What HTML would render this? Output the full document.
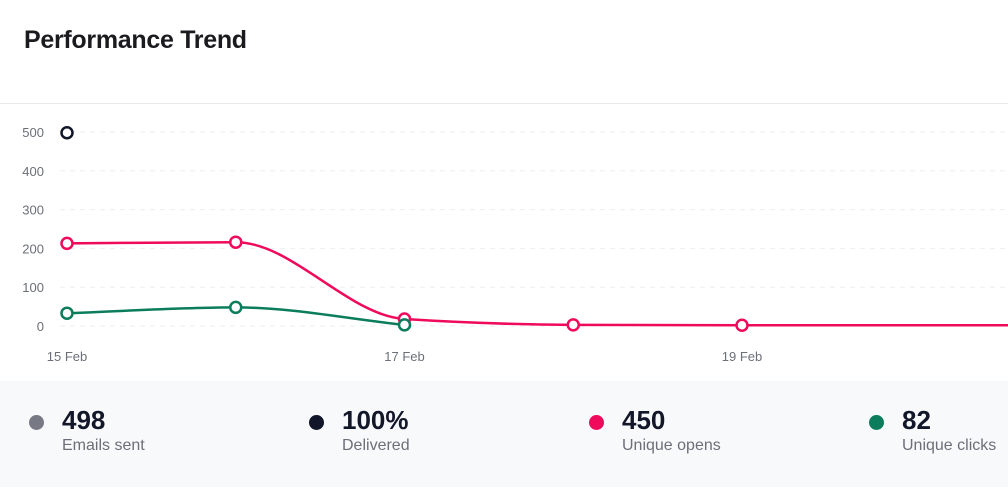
<!DOCTYPE html>
<html><head><meta charset="utf-8"><style>
body{margin:0;width:1008px;height:491px;overflow:hidden;background:#fff;font-family:"Liberation Sans",sans-serif;position:relative}
h1{position:absolute;left:24px;top:26px;margin:0;font-size:25px;font-weight:bold;color:#1a1a1f;letter-spacing:-0.3px}
.sep{position:absolute;left:0;top:103px;width:1008px;height:1px;background:#e6e8ec}
.footer{position:absolute;left:0;top:381px;width:1008px;height:106px;background:#f8f9fb}
.stat{position:absolute;top:405px}
.dot{position:absolute;left:0;top:10px;width:15px;height:15px;border-radius:50%}
.val{position:absolute;left:33px;top:0;font-size:26px;font-weight:bold;color:#13172a;white-space:nowrap}
.lab{position:absolute;left:33px;top:32px;font-size:16px;color:#6b6f78;white-space:nowrap}
svg{position:absolute;left:0;top:0}
</style></head><body>
<h1>Performance Trend</h1>
<div class="sep"></div>
<svg id="chart" width="1008" height="380"></svg>
<div class="footer">
</div>
<div class="stat" style="left:29px"><div class="dot" style="background:#777a84"></div><div class="val">498</div><div class="lab">Emails sent</div></div>
<div class="stat" style="left:309px"><div class="dot" style="background:#111629"></div><div class="val">100%</div><div class="lab">Delivered</div></div>
<div class="stat" style="left:589px"><div class="dot" style="background:#ef0a5b"></div><div class="val">450</div><div class="lab">Unique opens</div></div>
<div class="stat" style="left:869px"><div class="dot" style="background:#0b7d5c"></div><div class="val">82</div><div class="lab">Unique clicks</div></div>
<script>
const yTicks=[0,100,200,300,400,500];
const xLabels=["15 Feb","17 Feb","19 Feb"];
const xLabelIdx=[0,2,4];
const delivered=[498];
const opens=[213,216,18,3,2];
const clicks=[33,48,3];
const svg=document.getElementById('chart');
const NS='http://www.w3.org/2000/svg';
const x=i=>67+i*168.75;
const y=v=>326-v*0.388;
function mk(t,a){const e=document.createElementNS(NS,t);for(const k in a)e.setAttribute(k,a[k]);svg.appendChild(e);return e;}
yTicks.forEach(v=>{
 const g=mk('line',{x1:60,x2:1008,y1:y(v),y2:y(v),stroke:'#eceef1','stroke-dasharray':'5,5'});
 
 
 const t=mk('text',{x:44,y:y(v)+5,'text-anchor':'end','font-size':13,fill:'#6b6f78','font-family':'Liberation Sans'});
 t.textContent=v;
 
 
});
xLabels.forEach((l,k)=>{
 const t=mk('text',{x:x(xLabelIdx[k]),y:361,'text-anchor':'middle','font-size':13,fill:'#6b6f78','font-family':'Liberation Sans'});
 t.textContent=l;
 
 
});
function monotone(vals){
 const n=vals.length,P=vals.map((v,i)=>[x(i),y(v)]);
 if(n<2)return '';
 const d=[],m=[];
 for(let i=0;i<n-1;i++)d.push((P[i+1][1]-P[i][1])/(P[i+1][0]-P[i][0]));
 for(let i=0;i<n;i++){
  if(i==0)m.push(d[0]);else if(i==n-1)m.push(d[n-2]);
  else m.push(d[i-1]*d[i]<=0?0:3*(d[i-1]+d[i])/ (2+ (d[i-1]/d[i]+d[i]/d[i-1]) ) );
 }
 for(let i=0;i<n;i++){if(i>0&&i<n-1&&d[i-1]*d[i]>0){const a=d[i-1],b=d[i];m[i]=2*a*b/(a+b);}}
 let s='M'+P[0][0]+','+P[0][1];
 for(let i=0;i<n-1;i++){const h=(P[i+1][0]-P[i][0])/3;
  s+=' C'+(P[i][0]+h)+','+(P[i][1]+m[i]*h)+' '+(P[i+1][0]-h)+','+(P[i+1][1]-m[i+1]*h)+' '+P[i+1][0]+','+P[i+1][1];}
 return s;
}
function series(vals,color,name,extend){
 let d=monotone(vals);
 if(extend)d+=' L1008,'+y(vals[vals.length-1]);
 if(d){const p=mk('path',{d:d,fill:'none',stroke:color,'stroke-width':2.5});
  
  }
 vals.forEach((v,i)=>{
  const c=mk('circle',{cx:x(i),cy:y(v),r:5.5,fill:'#fff',stroke:color,'stroke-width':2.5});
  
  
 });
}
series(opens,'#ef0a5b','unique-opens',true);
series(clicks,'#0b7d5c','unique-clicks',false);
series(delivered,'#111629','delivered',false);
</script>
</body></html>
